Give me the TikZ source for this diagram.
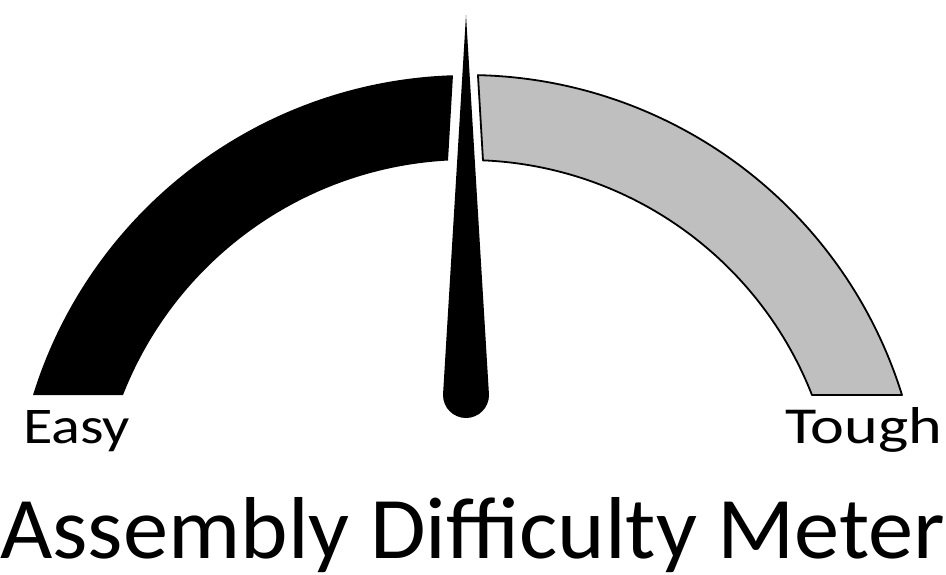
\documentclass[tikz,border=0pt]{standalone}
\usepackage{fontspec}
\setmainfont{Carlito}
\usetikzlibrary{calc}
\definecolor{gaugegrey}{HTML}{BFBFBF}
\tikzset{
  label text/.style={anchor=base west, inner sep=0pt, text=black},
}
\begin{document}
\begin{tikzpicture}[x=1pt,y=1pt]
\useasboundingbox (0,0) rectangle (946,-574);
\coordinate (C) at (467.5,-530);
% black (easy) band
\fill[black] ($(C)+(162.74:455pt)$) arc[start angle=162.74,end angle=91.83,radius=455pt]
  -- ($(C)+(93.02:370pt)$) arc[start angle=93.02,end angle=158.6,radius=370pt] -- cycle;
% grey (tough) band
\filldraw[fill=gaugegrey, draw=black, line width=1.8pt, line join=round]
  ($(C)+(88.68:455pt)$) arc[start angle=88.68,end angle=17.26,radius=455pt]
  -- ($(C)+(21.4:370pt)$) arc[start angle=21.4,end angle=87.6,radius=370pt] -- cycle;
% needle
\fill[black] (466,-15) -- (443,-395) arc[start angle=180,end angle=360,radius=23pt] -- cycle;
% labels
\node[label text] (easy) at (23,-443) {\resizebox{107pt}{33pt}{Easy}};
\node[label text] (tough) at (785,-443) {\resizebox{157pt}{36pt}{Tough}};
\node[label text] (title) at (0,-558) {\resizebox{945pt}{61pt}{Assembly Difficulty Meter}};
\end{tikzpicture}
\end{document}
